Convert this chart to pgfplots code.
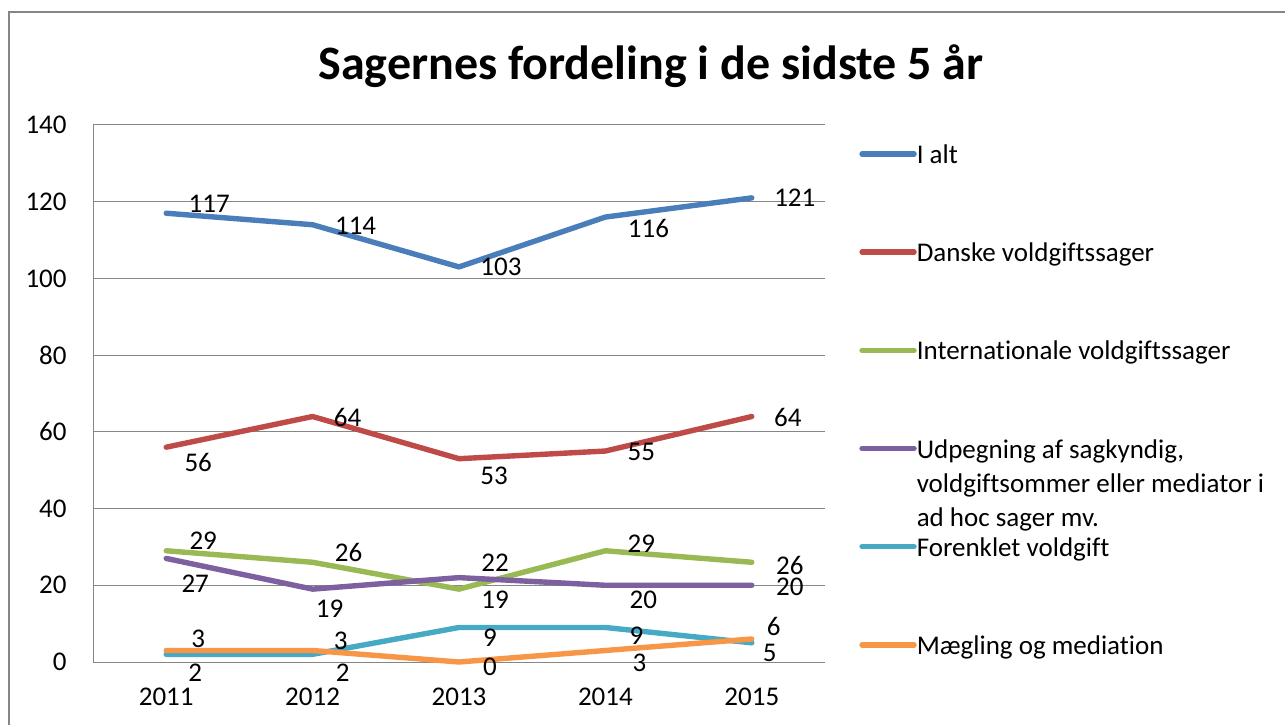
\documentclass[border=0pt]{standalone}
\usepackage{pgfplots}
\usepackage{pgfplotstable}
\pgfplotsset{compat=1.18}
\usepackage{fontspec}
\setmainfont{Carlito}[Ligatures={NoCommon}]
\definecolor{cBlue}{HTML}{4A7EBB}
\definecolor{cRed}{HTML}{BE4B48}
\definecolor{cGreen}{HTML}{98B954}
\definecolor{cPurple}{HTML}{7D60A0}
\definecolor{cTeal}{HTML}{46AAC5}
\definecolor{cOrange}{HTML}{F79646}
\definecolor{cGrid}{HTML}{868686}
\newcommand{\lf}{\fontsize{13.5}{16}\selectfont}

\pgfplotstableread{
x y dx dy
0 117 21.5 4.5
1 114 21.5 -0.5
2 103 21 0
3 116 21.5 -5.5
4 121 21.5 0
}\tIalt
\pgfplotstableread{
x y dx dy
0 56 16 -7.5
1 64 17.5 -0.5
2 53 17.5 -8.5
3 55 18 -0.5
4 64 18 -0.5
}\tDanske
\pgfplotstableread{
x y dx dy
0 29 18.5 5
1 26 18 5
2 19 18 -5.5
3 29 18 3.5
4 26 19 -1.5
}\tIntl
\pgfplotstableread{
x y dx dy
0 27 14.5 -12.5
1 19 8.5 -10
2 22 18 7.5
3 20 19 -7.5
4 20 19 -1
}\tUdp
\pgfplotstableread{
x y dx dy
0 2 14.5 -9
1 2 15 -9
2 9 15.5 -5
3 9 15.5 -4
4 5 9 -5
}\tForenklet
\pgfplotstableread{
x y dx dy
0 3 16 6
1 3 14 5
2 0 15.5 -2.5
3 3 17 -6
4 6 11 6.5
}\tMaegling

\begin{document}
\begin{tikzpicture}
\path[use as bounding box] (0,0) rectangle (642.5pt,362pt);
\draw[cGrid, line width=0.75pt] (4.5pt,-5pt) -- (4.5pt,356pt) -- (650pt,356pt);
\node[font=\fontsize{24}{28}\selectfont\bfseries] at (325.5pt,329pt) {Sagernes fordeling i de sidste 5 år};
\begin{axis}[
  at={(46.5pt,31pt)}, anchor=south west,
  scale only axis, width=366pt, height=268.5pt,
  xmin=-0.5, xmax=4.5, ymin=0, ymax=140,
  xtick={0,1,2,3,4}, xticklabels={2011,2012,2013,2014,2015},
  ytick={0,20,...,140},
  major tick length=0pt,
  axis x line*=bottom, axis y line*=left,
  axis line style={cGrid, line width=0.5pt, -},
  ymajorgrids, grid style={cGrid, line width=0.5pt},
  /pgf/number format/assume math mode=true,
  tick label style={font=\lf, text=black},
  yticklabel style={inner sep=0pt, anchor=east, xshift=-13pt},
  xticklabel style={inner sep=0pt, anchor=north, yshift=-13pt},
  clip=false,
  every axis plot/.append style={line width=2.7pt, line cap=round, line join=round, mark=none},
  nodes near coords,
  nodes near coords style={font=\lf, text=black, anchor=center, inner sep=0pt, xshift=\dx pt, yshift=\dy pt},
  visualization depends on={\thisrow{dx} \as \dx},
  visualization depends on={\thisrow{dy} \as \dy},
  legend image code/.code={\draw[#1, line width=2.7pt, line cap=round] (0pt,0pt) -- (26pt,0pt);},
  legend cell align=left,
  legend style={draw=none, fill=none, font=\lf, inner sep=0pt,
    nodes={inner sep=0pt}, column sep=0pt, row sep=36.6pt,
    at={(1.0464,0.9702)}, anchor=north west},
]
\addplot[cBlue] table[x=x, y=y] {\tIalt};
\addlegendentry{\raisebox{0pt}[11pt][3pt]{I alt}}
\addplot[cRed] table[x=x, y=y] {\tDanske};
\addlegendentry{\raisebox{0pt}[11pt][3pt]{Danske voldgiftssager}}
\addplot[cGreen] table[x=x, y=y] {\tIntl};
\addlegendentry{\raisebox{0pt}[11pt][3pt]{Internationale voldgiftssager}}
\addplot[cPurple] table[x=x, y=y] {\tUdp};
\addlegendentry{\raisebox{0pt}[11pt][3pt]{\parbox[t]{190pt}{\baselineskip=17pt Udpegning af sagkyndig,\\voldgiftsommer eller mediator i\\ad hoc sager mv.}}}
\addplot[cTeal] table[x=x, y=y] {\tForenklet};
\addlegendentry{\raisebox{0pt}[11pt][3pt]{Forenklet voldgift}}
\addplot[cOrange] table[x=x, y=y] {\tMaegling};
\addlegendentry{\raisebox{0pt}[11pt][3pt]{Mægling og mediation}}
\end{axis}
\end{tikzpicture}
\end{document}
